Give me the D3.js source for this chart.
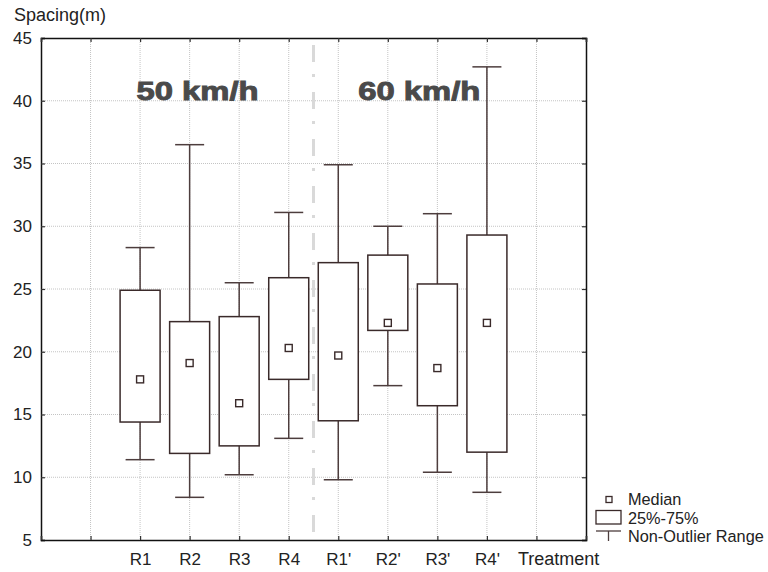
<!DOCTYPE html>
<html>
<head>
<meta charset="utf-8">
<script src="https://cdn.jsdelivr.net/npm/d3@7"></script>
<style>
  html, body { margin: 0; padding: 0; background: #fff; }
  svg { display: block; font-family: "Liberation Sans", Arial, sans-serif; }
</style>
</head>
<body>
<svg id="chart" width="768" height="572"></svg>
<script>
// ---- data ----
const categories = ["R1", "R2", "R3", "R4", "R1'", "R2'", "R3'", "R4'"];
const whiskerLow  = [11.4, 8.4, 10.2, 13.1, 9.8, 17.3, 10.4, 8.8];
const q1          = [14.4, 11.9, 12.5, 17.8, 14.5, 21.7, 15.7, 12.0];
const medians     = [17.8, 19.1, 15.9, 20.3, 19.7, 22.3, 18.7, 22.3];
const q3          = [24.9, 22.4, 22.8, 25.9, 27.1, 27.7, 25.4, 29.3];
const whiskerHigh = [28.3, 36.5, 25.5, 31.1, 34.9, 30.0, 31.0, 42.7];
const yTicks = [5, 10, 15, 20, 25, 30, 35, 40, 45];
const groupLabels = ["50 km/h", "60 km/h"];
const legendLabels = ["Median", "25%-75%", "Non-Outlier Range"];

// ---- layout ----
const L = 41, R = 586, T = 38, B = 540;
const svg = d3.select("#chart");
const slots = ["_s0", "_s1", ...categories, "_s2", "_s3"];
const x = d3.scalePoint().domain(slots).range([L, R]).padding(0);
const y = d3.scaleLinear().domain([5, 45]).range([B, T]);

const boxColor = "#3a2a2a";
const whiskColor = "#4d3d3d";
const gridColor = "#c4c4c4";

// grid
const grid = svg.append("g");
grid.selectAll("line.h").data(yTicks.filter(v => v > 5 && v < 45)).join("line")
  .attr("class", "h")
  .attr("x1", L).attr("x2", R).attr("y1", d => y(d)).attr("y2", d => y(d))
  .attr("stroke", gridColor).attr("stroke-width", 1).attr("stroke-dasharray", "1,1");
grid.selectAll("line.v").data(slots.slice(1, -1)).join("line")
  .attr("class", "v")
  .attr("x1", d => x(d)).attr("x2", d => x(d)).attr("y1", T).attr("y2", B)
  .attr("stroke", gridColor).attr("stroke-width", 1).attr("stroke-dasharray", "1,1");

// separator
const sepX = (x("R4") + x("R1'")) / 2;
svg.append("line")
  .attr("x1", sepX).attr("x2", sepX).attr("y1", T).attr("y2", B)
  .attr("stroke", "#d9d9d9").attr("stroke-width", 3)
  .attr("stroke-dasharray", "17,12,3,15").attr("stroke-dashoffset", 40);

// group titles
const groupX = [x("R1") - 3.5, x("R1'") + 20];
svg.selectAll("text.grp").data(groupLabels).join("text")
  .attr("class", "grp")
  .attr("x", (d, i) => groupX[i]).attr("y", 99.5)
  .attr("font-size", 25).attr("font-weight", "bold")
  .attr("fill", "#4a4a4a").attr("stroke", "#4a4a4a").attr("stroke-width", 0.9)
  .attr("textLength", 122).attr("lengthAdjust", "spacingAndGlyphs")
  .text(d => d);

// boxes
const boxW = 40, capW = 29, medS = 7;
const data = categories.map((c, i) => ({c, lo: whiskerLow[i], q1: q1[i], med: medians[i], q3: q3[i], hi: whiskerHigh[i]}));
const g = svg.append("g");
const item = g.selectAll("g.box").data(data).join("g").attr("class", "box");
item.append("line").attr("x1", d => x(d.c)).attr("x2", d => x(d.c))
  .attr("y1", d => y(d.lo)).attr("y2", d => y(d.hi))
  .attr("stroke", whiskColor).attr("stroke-width", 1.5);
item.append("line").attr("x1", d => x(d.c) - capW / 2).attr("x2", d => x(d.c) + capW / 2)
  .attr("y1", d => y(d.hi)).attr("y2", d => y(d.hi))
  .attr("stroke", whiskColor).attr("stroke-width", 1.5);
item.append("line").attr("x1", d => x(d.c) - capW / 2).attr("x2", d => x(d.c) + capW / 2)
  .attr("y1", d => y(d.lo)).attr("y2", d => y(d.lo))
  .attr("stroke", whiskColor).attr("stroke-width", 1.5);
item.append("rect").attr("x", d => x(d.c) - boxW / 2).attr("width", boxW)
  .attr("y", d => y(d.q3)).attr("height", d => y(d.q1) - y(d.q3))
  .attr("fill", "#fff").attr("stroke", boxColor).attr("stroke-width", 1.5);
item.append("rect").attr("x", d => x(d.c) - medS / 2).attr("width", medS)
  .attr("y", d => y(d.med) - medS / 2).attr("height", medS)
  .attr("fill", "#fff").attr("stroke", boxColor).attr("stroke-width", 1.4);

// axes
const fmtX = d => d.startsWith("_") ? "" : d;
const ax = svg.append("g").attr("font-family", "Liberation Sans, Arial, sans-serif");
const axLeft = ax.append("g").attr("transform", `translate(${L},0)`)
  .call(d3.axisLeft(y).tickValues(yTicks).tickSize(-4).tickPadding(9).tickFormat(d3.format("d")));
const axRight = ax.append("g").attr("transform", `translate(${R},0)`)
  .call(d3.axisRight(y).tickValues(yTicks).tickSize(-4).tickFormat(""));
const axBottom = ax.append("g").attr("transform", `translate(0,${B})`)
  .call(d3.axisBottom(x).tickSize(-4).tickPadding(13).tickFormat(fmtX));
const axTop = ax.append("g").attr("transform", `translate(0,${T})`)
  .call(d3.axisTop(x).tickSize(-4).tickFormat(""));
[axLeft, axRight, axBottom, axTop].forEach(a => {
  a.select(".domain").attr("stroke", "#111").attr("stroke-width", 1.5);
  a.selectAll(".tick line").attr("stroke", "#333").attr("stroke-width", 1.2);
  a.selectAll(".tick text").attr("font-size", 17).attr("fill", "#222");
});

// axis titles
svg.append("text").attr("x", 14).attr("y", 21).attr("font-size", 18).attr("fill", "#222").text("Spacing(m)");
svg.append("text").attr("x", 518).attr("y", 565).attr("font-size", 18).attr("fill", "#222").text("Treatment");

// legend
const lg = svg.append("g");
lg.append("rect").attr("x", 606).attr("y", 496.5).attr("width", 6).attr("height", 6)
  .attr("fill", "#fff").attr("stroke", boxColor).attr("stroke-width", 1.3);
lg.append("rect").attr("x", 596).attr("y", 510.5).attr("width", 25).attr("height", 13.5)
  .attr("fill", "#fff").attr("stroke", boxColor).attr("stroke-width", 1.3);
lg.append("line").attr("x1", 596).attr("x2", 621).attr("y1", 531).attr("y2", 531)
  .attr("stroke", whiskColor).attr("stroke-width", 1.3);
lg.append("line").attr("x1", 608.5).attr("x2", 608.5).attr("y1", 531).attr("y2", 541)
  .attr("stroke", whiskColor).attr("stroke-width", 1.3);
const legY = [505, 523.5, 541.5];
lg.selectAll("text").data(legendLabels).join("text")
  .attr("x", 628).attr("y", (d, i) => legY[i])
  .attr("font-size", 16.3).attr("fill", "#222").text(d => d);
</script>
</body>
</html>
